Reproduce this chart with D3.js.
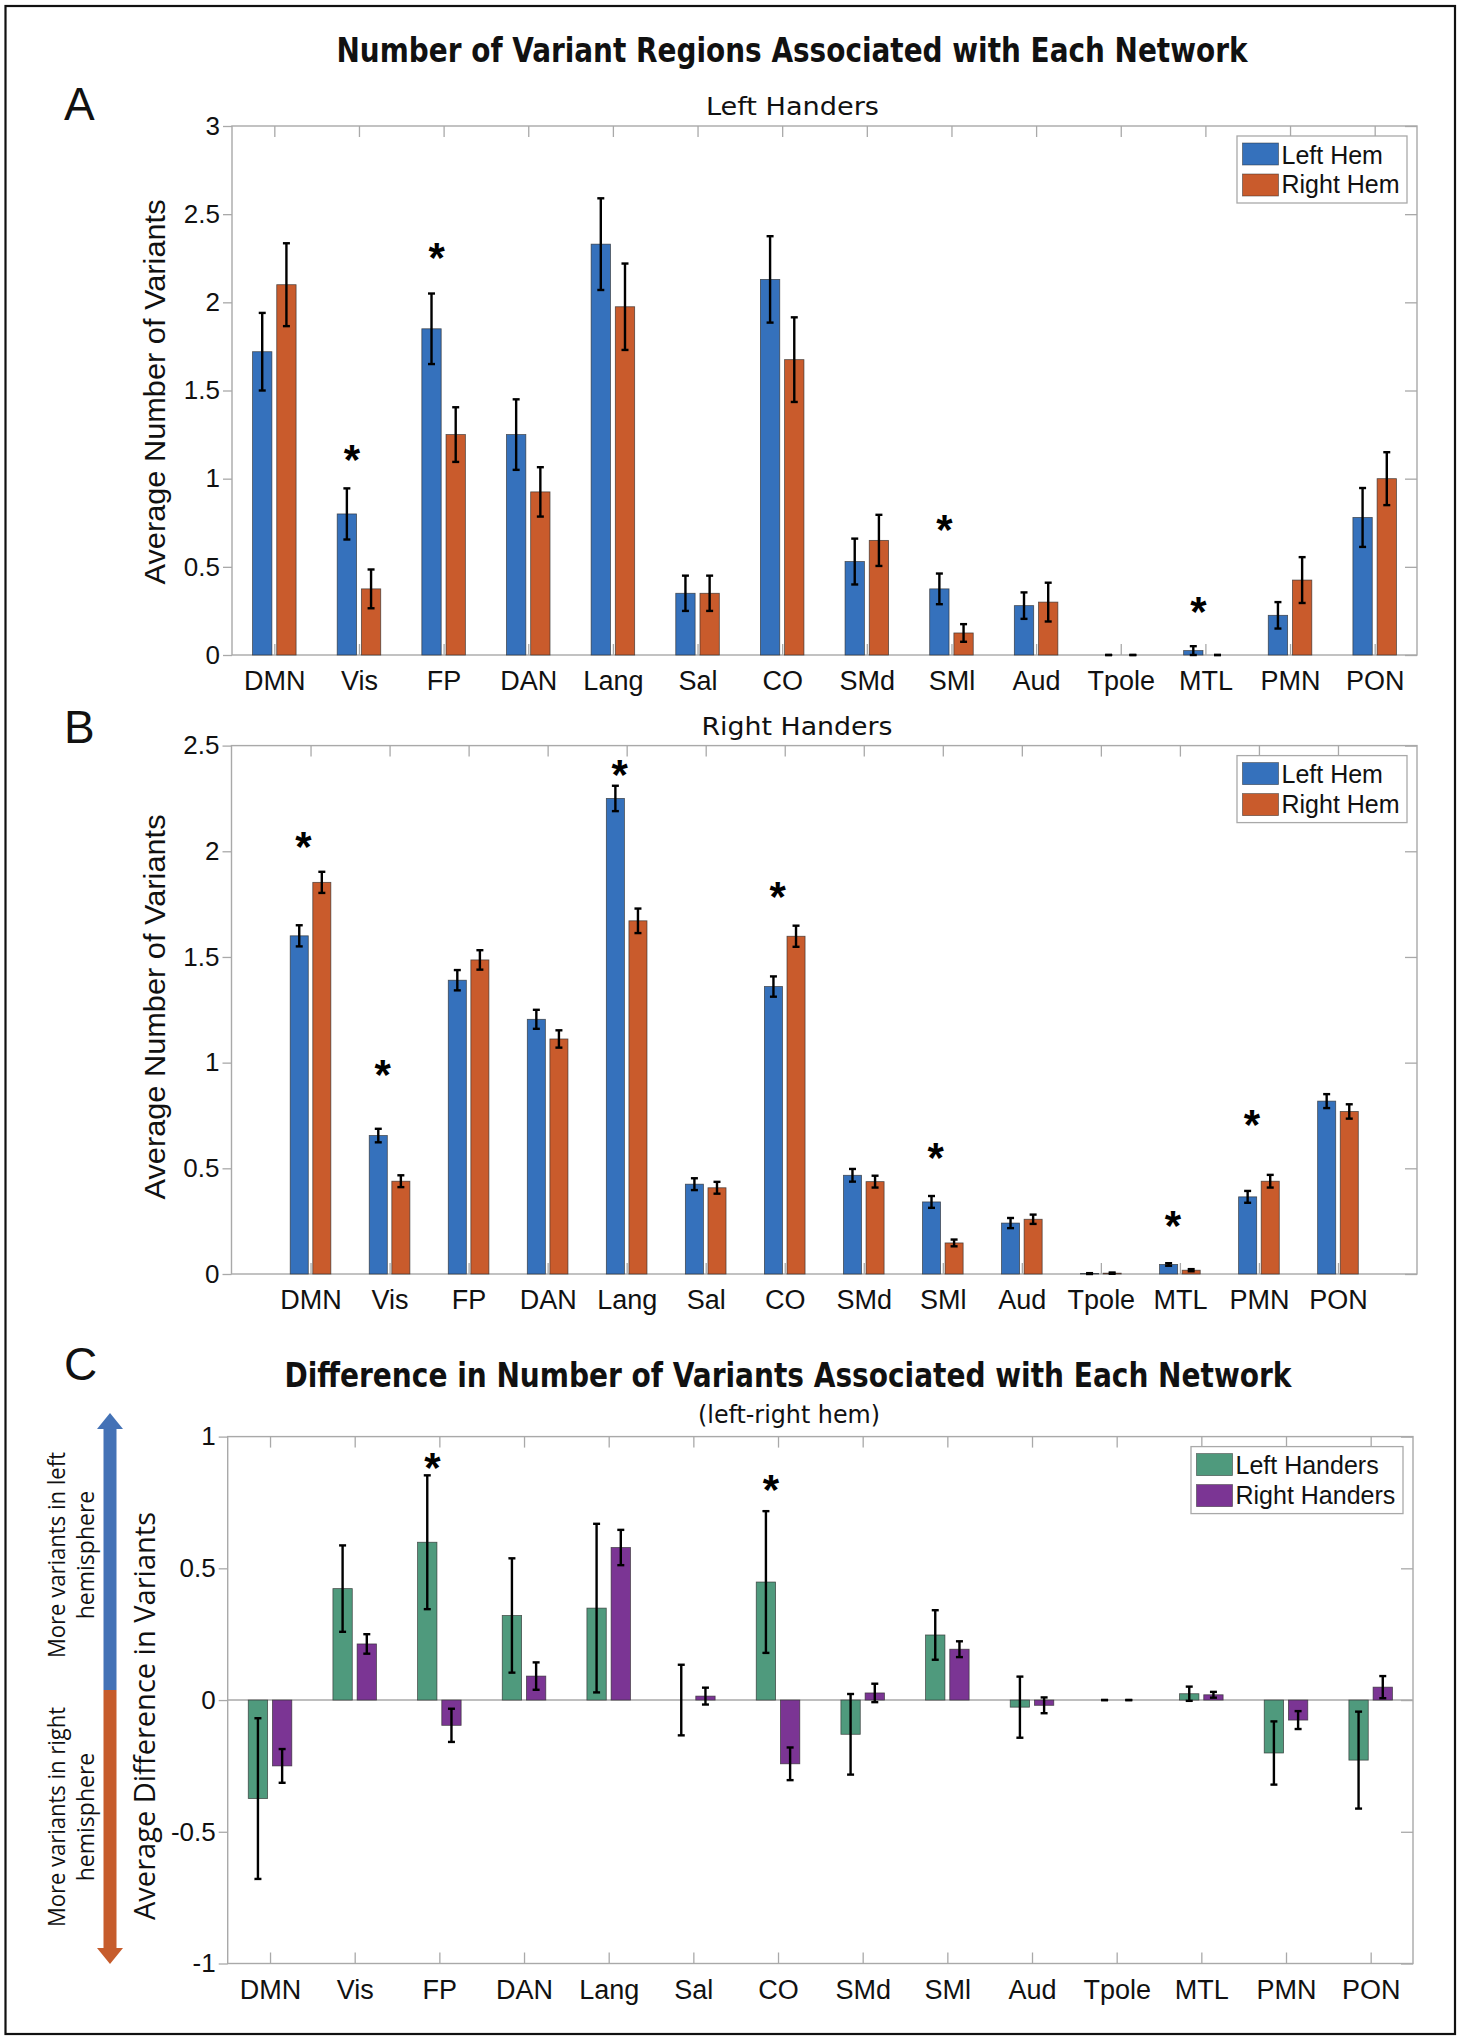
<!DOCTYPE html>
<html><head><meta charset="utf-8">
<script src="https://cdn.jsdelivr.net/npm/d3@7"></script>
<style>body{margin:0;background:#fff} svg{display:block}</style>
</head><body>
<svg id="fig" width="1463" height="2040"></svg>
<script>
// ---------------- data ----------------
const categories = ["DMN","Vis","FP","DAN","Lang","Sal","CO","SMd","SMl","Aud","Tpole","MTL","PMN","PON"];

// Panel A: left handers
const lhLeftHem     = [1.72,0.80,1.85,1.25,2.33,0.35,2.13,0.53,0.375,0.28,0,0.025,0.225,0.78];
const lhLeftHemErr  = [0.22,0.145,0.20,0.20,0.26,0.10,0.245,0.13,0.087,0.075,0,0.025,0.075,0.167];
const lhRightHem    = [2.10,0.375,1.25,0.925,1.975,0.35,1.675,0.65,0.125,0.30,0,0,0.425,1.0];
const lhRightHemErr = [0.235,0.11,0.155,0.14,0.245,0.10,0.24,0.145,0.05,0.11,0,0,0.13,0.15];
const lhStarCats    = ["Vis","FP","SMl","MTL"];
const lhStarLevels  = [1.165,2.31,0.77,0.305];

// Panel B: right handers
const rhLeftHem     = [1.60,0.655,1.39,1.205,2.25,0.425,1.36,0.467,0.341,0.241,0.002,0.045,0.365,0.818];
const rhLeftHemErr  = [0.05,0.032,0.048,0.045,0.06,0.028,0.048,0.03,0.028,0.024,0.002,0.006,0.028,0.033];
const rhRightHem    = [1.853,0.439,1.486,1.112,1.671,0.408,1.598,0.437,0.147,0.259,0.004,0.018,0.439,0.769];
const rhRightHemErr = [0.05,0.028,0.046,0.041,0.058,0.028,0.05,0.028,0.016,0.022,0.003,0.005,0.03,0.034];
const rhStarCats    = ["DMN","Vis","Lang","CO","SMl","MTL","PMN"];
const rhStarLevels  = [2.067,0.992,2.412,1.833,0.596,0.276,0.753];

// Panel C: difference (left - right hem)
const diffLH     = [-0.374,0.423,0.599,0.321,0.349,0,0.448,-0.13,0.247,-0.027,0,0.024,-0.201,-0.228];
const diffLHErr  = [0.305,0.164,0.254,0.217,0.32,0.134,0.269,0.153,0.094,0.116,0,0.027,0.12,0.184];
const diffRH     = [-0.25,0.213,-0.096,0.091,0.579,0.015,-0.242,0.027,0.193,-0.02,0,0.02,-0.076,0.049];
const diffRHErr  = [0.064,0.037,0.063,0.052,0.067,0.032,0.062,0.035,0.03,0.03,0,0.011,0.034,0.042];
const diffStarCats   = ["FP","CO"];
const diffStarLevels = [0.919,0.836];

const ticksA = [0,0.5,1,1.5,2,2.5,3];
const ticksB = [0,0.5,1,1.5,2,2.5];
const ticksC = [-1,-0.5,0,0.5,1];
const tickLabelsA = ["0","0.5","1","1.5","2","2.5","3"];
const tickLabelsB = ["0","0.5","1","1.5","2","2.5"];
const tickLabelsC = ["-1","-0.5","0","0.5","1"];

const hemLegend  = ["Left Hem","Right Hem"];
const handLegend = ["Left Handers","Right Handers"];

// ---------------- style ----------------
const BLUE = "#3571bc", ORANGE = "#c95b2c", GREEN = "#4f9a7d", PURPLE = "#7b3594";
const AXIS = "#a9a9a9";
const SANS = "'Liberation Sans', Arial, Helvetica, sans-serif";
const NARROW = "'Liberation Sans Narrow', 'DejaVu Sans Condensed', 'Liberation Sans', Arial, sans-serif";
const HUMAN = "'Open Sans', 'Noto Sans', sans-serif";

const svg = d3.select("#fig");

// outer border
svg.append("rect").attr("x",5.5).attr("y",6).attr("width",1449.5).attr("height",2028)
  .attr("fill","none").attr("stroke","#111").attr("stroke-width",2.2);

function txt(x,y,s,opts){
  const t = svg.append("text").attr("x",x).attr("y",y).text(s)
    .attr("font-family",opts.family||SANS).attr("font-size",opts.size)
    .attr("font-weight",opts.weight||"normal").attr("fill",opts.fill||"#111")
    .attr("text-anchor",opts.anchor||"start");
  if(opts.len){ t.attr("textLength",opts.len).attr("lengthAdjust","spacingAndGlyphs"); }
  if(opts.rotate){ t.attr("transform",`rotate(-90 ${x} ${y})`); }
  return t;
}

function panel(cfg){
  const g = svg.append("g");
  const x = d3.scaleLinear().domain(cfg.xDomain).range([cfg.left,cfg.right]);
  const y = d3.scaleLinear().domain(cfg.yDomain).range([cfg.bottom,cfg.top]);
  const step = x(2)-x(1);
  const bw = step*0.2286, off = step*0.1429;
  const idx = d3.range(1,categories.length+1);

  const styleAxis = sel => {
    sel.select(".domain").remove();
    sel.selectAll(".tick line").attr("stroke",AXIS).attr("stroke-width",1.3);
    sel.selectAll(".tick text").attr("font-family",SANS).attr("font-size",26).attr("fill","#111");
  };
  // left axis (ticks outward + labels)
  g.append("g").attr("transform",`translate(${cfg.left},0)`)
    .call(d3.axisLeft(y).tickValues(cfg.ticks).tickFormat((d,i)=>cfg.tickLabels[i]).tickSize(9).tickPadding(3))
    .call(styleAxis);
  // right axis (ticks inward)
  g.append("g").attr("transform",`translate(${cfg.right},0)`)
    .call(d3.axisRight(y).tickValues(cfg.ticks).tickFormat("").tickSize(-12))
    .call(styleAxis);
  // top axis (ticks inward)
  g.append("g").attr("transform",`translate(0,${cfg.top})`)
    .call(d3.axisTop(x).tickValues(idx).tickFormat("").tickSize(-11))
    .call(styleAxis);
  // bottom axis (ticks inward + category labels)
  const bottomAx = g.append("g").attr("transform",`translate(0,${cfg.bottom})`)
    .call(d3.axisBottom(x).tickValues(idx).tickFormat(i=>categories[i-1]).tickSize(-11).tickPadding(16))
    .call(styleAxis);
  bottomAx.selectAll(".tick text").attr("font-size",27);
  // box
  g.append("rect").attr("x",cfg.left).attr("y",cfg.top)
    .attr("width",cfg.right-cfg.left).attr("height",cfg.bottom-cfg.top)
    .attr("fill","none").attr("stroke",AXIS).attr("stroke-width",1.4);
  if(cfg.yDomain[0] < 0){
    g.append("line").attr("x1",cfg.left).attr("x2",cfg.right)
      .attr("y1",y(0)).attr("y2",y(0)).attr("stroke",AXIS).attr("stroke-width",1.6);
  }
  // bars
  cfg.series.forEach((s,si)=>{
    const dx = si===0 ? -off : off;
    const rows = s.values.map((v,i)=>({v, e:s.errs[i], i}));
    g.append("g").selectAll("rect").data(rows).join("rect")
      .attr("x",d=>x(d.i+1)+dx-bw/2).attr("width",bw)
      .attr("y",d=>Math.min(y(0),y(d.v))).attr("height",d=>Math.abs(y(d.v)-y(0)))
      .attr("fill",s.color).attr("stroke","#2b2b2b").attr("stroke-opacity",0.75).attr("stroke-width",0.8);
  });
  // error bars
  cfg.series.forEach((s,si)=>{
    const dx = si===0 ? -off : off;
    const rows = s.values.map((v,i)=>({v, e:s.errs[i], i}));
    const eg = g.append("g").attr("stroke","#000").attr("stroke-width",2.4).attr("fill","none");
    rows.forEach(d=>{
      const cx = x(d.i+1)+dx, y1 = y(d.v-d.e), y2 = y(d.v+d.e);
      eg.append("line").attr("x1",cx).attr("x2",cx).attr("y1",y1).attr("y2",y2);
      eg.append("line").attr("x1",cx-3.5).attr("x2",cx+3.5).attr("y1",y1).attr("y2",y1);
      eg.append("line").attr("x1",cx-3.5).attr("x2",cx+3.5).attr("y1",y2).attr("y2",y2);
    });
  });
  // significance stars
  cfg.starCats.forEach((c,k)=>{
    const i = categories.indexOf(c)+1;
    const fs = 42;
    g.append("text").attr("x",x(i)-7).attr("y",y(cfg.starLevels[k])+0.58*fs)
      .attr("text-anchor","middle").attr("font-family",SANS).attr("font-weight","bold")
      .attr("font-size",fs).attr("fill","#000").text("*");
  });
  // legend
  const lw = cfg.legendW, lx = cfg.right-10-lw, ly = cfg.top+10;
  const lg = g.append("g");
  lg.append("rect").attr("x",lx).attr("y",ly).attr("width",lw).attr("height",67)
    .attr("fill","#fff").attr("stroke",AXIS).attr("stroke-width",1.3);
  cfg.series.forEach((s,si)=>{
    lg.append("rect").attr("x",lx+5.5).attr("y",ly+7+si*31).attr("width",36).attr("height",22)
      .attr("fill",s.color).attr("stroke","#2b2b2b").attr("stroke-opacity",0.6).attr("stroke-width",0.8);
    lg.append("text").attr("x",lx+44.5).attr("y",ly+27.5+si*29.5)
      .attr("font-family",SANS).attr("font-size",25).attr("fill","#111").text(cfg.legend[si]);
  });
}

// ---------------- titles & labels ----------------
txt(792,62,"Number of Variant Regions Associated with Each Network",{family:NARROW,size:34,weight:"bold",anchor:"middle",len:911});
txt(64,120,"A",{size:46});
txt(792.5,115,"Left Handers",{family:NARROW,size:25,anchor:"middle",len:173});
txt(64,743,"B",{size:46});
txt(797,735,"Right Handers",{family:NARROW,size:25,anchor:"middle",len:191});
txt(64,1380,"C",{size:46});
txt(788,1387,"Difference in Number of Variants Associated with Each Network",{family:NARROW,size:34,weight:"bold",anchor:"middle",len:1007});
txt(789,1423,"(left-right hem)",{family:NARROW,size:25,anchor:"middle",len:182});

txt(165,392,"Average Number of Variants",{size:30,anchor:"middle",rotate:true,len:385});
txt(165,1007,"Average Number of Variants",{size:30,anchor:"middle",rotate:true,len:385});
txt(155,1716,"Average Difference in Variants",{family:HUMAN,size:30,anchor:"middle",rotate:true,len:408});

// direction arrow
svg.append("line").attr("x1",110).attr("x2",110).attr("y1",1426).attr("y2",1690)
  .attr("stroke","#4472b6").attr("stroke-width",13);
svg.append("line").attr("x1",110).attr("x2",110).attr("y1",1690).attr("y2",1950)
  .attr("stroke","#c65c2c").attr("stroke-width",13);
svg.append("path").attr("d","M110,1413 L123,1429 L97,1429 Z").attr("fill","#4472b6");
svg.append("path").attr("d","M110,1964 L123,1948 L97,1948 Z").attr("fill","#c65c2c");
txt(65,1555,"More variants in left",{family:HUMAN,size:23,anchor:"middle",rotate:true,len:206});
txt(94,1555,"hemisphere",{family:HUMAN,size:23,anchor:"middle",rotate:true});
txt(65,1817,"More variants in right",{family:HUMAN,size:23,anchor:"middle",rotate:true,len:220});
txt(94,1817,"hemisphere",{family:HUMAN,size:23,anchor:"middle",rotate:true});

// ---------------- panels ----------------
panel({left:232,right:1417,top:126,bottom:655,xDomain:[0.5,14.5],yDomain:[0,3],
  ticks:ticksA,tickLabels:tickLabelsA,legendW:170,legend:hemLegend,
  series:[{values:lhLeftHem,errs:lhLeftHemErr,color:BLUE},{values:lhRightHem,errs:lhRightHemErr,color:ORANGE}],
  starCats:lhStarCats,starLevels:lhStarLevels});
panel({left:231.5,right:1417,top:745.6,bottom:1274,xDomain:[0,15],yDomain:[0,2.5],
  ticks:ticksB,tickLabels:tickLabelsB,legendW:170,legend:hemLegend,
  series:[{values:rhLeftHem,errs:rhLeftHemErr,color:BLUE},{values:rhRightHem,errs:rhRightHemErr,color:ORANGE}],
  starCats:rhStarCats,starLevels:rhStarLevels});
panel({left:227.7,right:1413,top:1436.6,bottom:1963.5,xDomain:[0.5,14.5],yDomain:[-1,1],
  ticks:ticksC,tickLabels:tickLabelsC,legendW:212,legend:handLegend,
  series:[{values:diffLH,errs:diffLHErr,color:GREEN},{values:diffRH,errs:diffRHErr,color:PURPLE}],
  starCats:diffStarCats,starLevels:diffStarLevels});
</script>
</body></html>
